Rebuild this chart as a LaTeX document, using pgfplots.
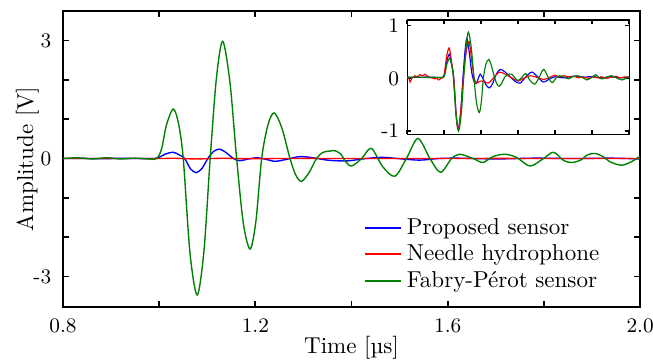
\documentclass[border=0pt]{standalone}
\usepackage{pgfplots}
\pgfplotsset{compat=1.18}
\usetikzlibrary{calc}
\definecolor{cblue}{RGB}{0,0,255}
\definecolor{cred}{RGB}{255,0,0}
\definecolor{cgreen}{RGB}{0,128,0}
\newcommand{\tickfont}{\fontsize{9}{10.5}\selectfont}
\begin{document}
\begin{tikzpicture}
\begin{axis}[
  name=main,
  scale only axis,
  width=250.9pt, height=128.6pt,
  xmin=0.8, xmax=2.0, ymin=-3.77, ymax=3.75,
  xtick={0.8,1.0,1.2,1.4,1.6,1.8,2.0},
  xticklabels={0.8,,1.2,,1.6,,2.0},
  ytick={-3,-2,-1,0,1,2,3},
  yticklabels={-3,,,0,,,3},
  tick align=inside,
  major tick length=2.6pt,
  axis line style={line width=0.8pt},
  every tick/.style={black, line width=0.8pt},
  tick label style={font=\tickfont},
  xticklabel shift=1.8pt,
  yticklabel shift=1.6pt,
  xlabel={Time [µs]},
  ylabel={Amplitude [V]},
  xlabel style={at={(axis description cs:0.5,-0.1576)}, anchor=base},
  ylabel style={at={(axis description cs:-0.052,0.5)}, anchor=base, rotate=0},
  legend style={draw=none, fill=none, at={(rel axis cs:0.5095,0.328)}, anchor=north west,
    nodes={inner ysep=1.5pt, inner xsep=2pt}, font=\normalsize},
  legend cell align=left,
  legend image post style={xscale=0.92},
  legend entries={Proposed sensor, Needle hydrophone, Fabry-Pérot sensor},
]
\addlegendimage{cblue, line width=0.75pt}
\addlegendimage{cred, line width=0.75pt}
\addlegendimage{cgreen, line width=0.75pt}
\addplot[cblue, smooth, line width=0.6pt, forget plot] coordinates {
(0.80,0.00)(0.84,0.005)(0.88,-0.005)(0.92,0.005)(0.96,0.0)(0.99,0.0)(1.000,0.03)(1.012,0.11)(1.029,0.16)(1.042,0.09)(1.053,0.0)(1.065,-0.26)(1.077,-0.36)(1.089,-0.25)(1.101,0.0)(1.113,0.18)(1.125,0.24)(1.137,0.17)(1.150,0.04)(1.163,-0.05)(1.175,-0.04)(1.190,0.0)(1.205,0.02)(1.222,-0.02)(1.241,-0.07)(1.265,-0.02)(1.292,0.05)(1.320,0.02)(1.350,-0.04)(1.390,-0.06)(1.430,0.0)(1.465,0.03)(1.505,-0.01)(1.542,-0.04)(1.580,0.0)(1.620,0.01)(1.700,-0.01)(1.780,0.01)(1.860,0.0)(1.940,0.01)(2.000,-0.01)
};
\addplot[cred, smooth, line width=0.6pt, forget plot] coordinates {
(0.80,0.0)(0.90,0.003)(1.00,0.0)(1.029,0.008)(1.077,-0.01)(1.132,0.008)(1.18,-0.003)(1.30,0.003)(1.50,0.0)(1.70,0.003)(2.00,0.0)
};
\addplot[cgreen, smooth, line width=0.6pt, forget plot] coordinates {
(0.80,0.0)(0.83,0.02)(0.86,-0.01)(0.89,0.02)(0.92,-0.01)(0.95,0.01)(0.98,-0.01)(0.995,0.0)(1.005,0.25)(1.015,0.85)(1.029,1.26)(1.040,0.9)(1.050,0.0)(1.064,-2.4)(1.079,-3.47)(1.093,-2.35)(1.106,0.0)(1.119,2.05)(1.132,2.98)(1.147,1.95)(1.161,0.0)(1.175,-1.65)(1.189,-2.30)(1.201,-1.6)(1.213,0.0)(1.226,0.85)(1.239,1.16)(1.255,0.78)(1.272,0.0)(1.284,-0.42)(1.296,-0.58)(1.312,-0.35)(1.327,0.0)(1.341,0.16)(1.355,0.19)(1.365,0.2)(1.377,0.12)(1.388,-0.08)(1.400,-0.19)(1.421,0.0)(1.441,0.26)(1.465,-0.21)(1.490,-0.45)(1.514,0.0)(1.538,0.51)(1.563,0.0)(1.585,-0.35)(1.608,0.0)(1.625,0.11)(1.653,0.0)(1.673,-0.1)(1.694,0.05)(1.719,0.11)(1.743,0.03)(1.771,-0.19)(1.799,0.0)(1.820,0.16)(1.841,-0.05)(1.858,-0.1)(1.876,-0.04)(1.890,0.09)(1.906,0.13)(1.923,0.05)(1.937,-0.08)(1.961,-0.17)(1.982,-0.08)(2.000,0.06)
};
\end{axis}
\begin{axis}[
  at={($(main.south west)+(149.6pt,75.1pt)$)}, anchor=south west,
  scale only axis,
  width=96.5pt, height=49.6pt,
  xmin=0.8, xmax=2.0, ymin=-1.06, ymax=1.11,
  xtick={0.8,1.0,1.2,1.4,1.6,1.8,2.0},
  xticklabels={},
  ytick={-1,0,1},
  yticklabels={-1,0,1},
  tick align=inside,
  major tick length=1.6pt,
  axis line style={line width=0.5pt},
  every tick/.style={black, line width=0.6pt},
  tick label style={font=\tickfont},
  yticklabel shift=0pt,
  axis background/.style={fill=white},
  every axis plot/.append style={line width=0.5pt},
]
\addplot[cblue, smooth] coordinates {
(0.80,0.02)(0.85,0.02)(0.90,0.025)(0.95,0.02)(0.99,0.02)(1.000,0.05)(1.013,0.3)(1.028,0.46)(1.040,0.27)(1.052,0.02)(1.065,-0.68)(1.077,-0.97)(1.090,-0.62)(1.102,0.02)(1.113,0.52)(1.123,0.76)(1.135,0.52)(1.150,0.1)(1.162,-0.06)(1.173,-0.10)(1.185,0.0)(1.195,0.08)(1.210,0.0)(1.228,-0.13)(1.245,-0.18)(1.262,-0.1)(1.282,0.08)(1.303,0.17)(1.330,0.12)(1.360,0.02)(1.385,-0.06)(1.411,-0.09)(1.440,0.02)(1.474,0.12)(1.505,0.03)(1.537,-0.07)(1.570,-0.01)(1.600,0.03)(1.650,0.01)(1.700,0.04)(1.750,0.02)(1.800,0.035)(1.850,0.01)(1.900,0.03)(1.950,0.01)(2.000,0.02)
};
\addplot[cred, smooth] coordinates {
(0.800,0.00)(0.808,0.02)(0.816,-0.07)(0.825,0.0)(0.835,0.03)(0.843,0.05)(0.855,0.03)(0.870,0.07)(0.885,0.05)(0.897,0.08)(0.910,0.04)(0.924,0.02)(0.940,0.0)(0.951,-0.01)(0.960,0.01)(0.969,-0.03)(0.980,-0.01)(0.990,0.01)(1.000,0.07)(1.013,0.4)(1.027,0.58)(1.040,0.32)(1.052,0.0)(1.065,-0.7)(1.077,-0.99)(1.090,-0.62)(1.104,0.0)(1.120,0.52)(1.135,0.70)(1.150,0.32)(1.163,0.0)(1.175,-0.09)(1.190,-0.06)(1.203,-0.05)(1.222,-0.07)(1.240,-0.09)(1.260,-0.02)(1.280,0.06)(1.300,0.12)(1.330,0.08)(1.360,0.02)(1.380,-0.02)(1.402,-0.05)(1.430,0.0)(1.465,0.05)(1.500,0.02)(1.540,-0.02)(1.570,0.02)(1.600,0.06)(1.620,0.03)(1.650,0.05)(1.680,0.02)(1.700,0.04)(1.730,0.01)(1.750,0.03)(1.780,0.0)(1.800,0.03)(1.830,0.01)(1.850,0.03)(1.880,0.0)(1.900,0.02)(1.930,0.04)(1.950,0.01)(1.980,0.03)(2.000,0.02)
};
\addplot[cgreen, smooth] coordinates {
(0.80,0.02)(0.85,0.025)(0.90,0.015)(0.95,0.02)(0.995,0.02)(1.005,0.09)(1.015,0.27)(1.029,0.38)(1.040,0.28)(1.050,0.02)(1.064,-0.67)(1.078,-1.0)(1.093,-0.66)(1.106,0.02)(1.119,0.61)(1.131,0.88)(1.147,0.58)(1.161,0.02)(1.175,-0.46)(1.190,-0.65)(1.201,-0.45)(1.213,0.02)(1.226,0.27)(1.241,0.36)(1.256,0.24)(1.272,0.02)(1.286,-0.11)(1.298,-0.15)(1.312,-0.09)(1.327,0.02)(1.345,0.07)(1.365,0.08)(1.385,0.0)(1.400,-0.04)(1.421,0.02)(1.441,0.09)(1.465,-0.04)(1.490,-0.11)(1.514,0.02)(1.538,0.17)(1.563,0.02)(1.585,-0.08)(1.608,0.02)(1.625,0.05)(1.653,0.02)(1.673,-0.01)(1.694,0.03)(1.719,0.05)(1.743,0.03)(1.771,-0.03)(1.799,0.02)(1.820,0.07)(1.841,0.0)(1.858,-0.01)(1.890,0.04)(1.906,0.05)(1.937,0.0)(1.961,-0.03)(1.982,0.0)(2.000,0.03)
};
\end{axis}
\pgfresetboundingbox
\useasboundingbox ($(main.south west)+(-27.4pt,-22.7pt)$) rectangle ($(main.south west)+(256.5pt,133.4pt)$);
\end{tikzpicture}
\end{document}
